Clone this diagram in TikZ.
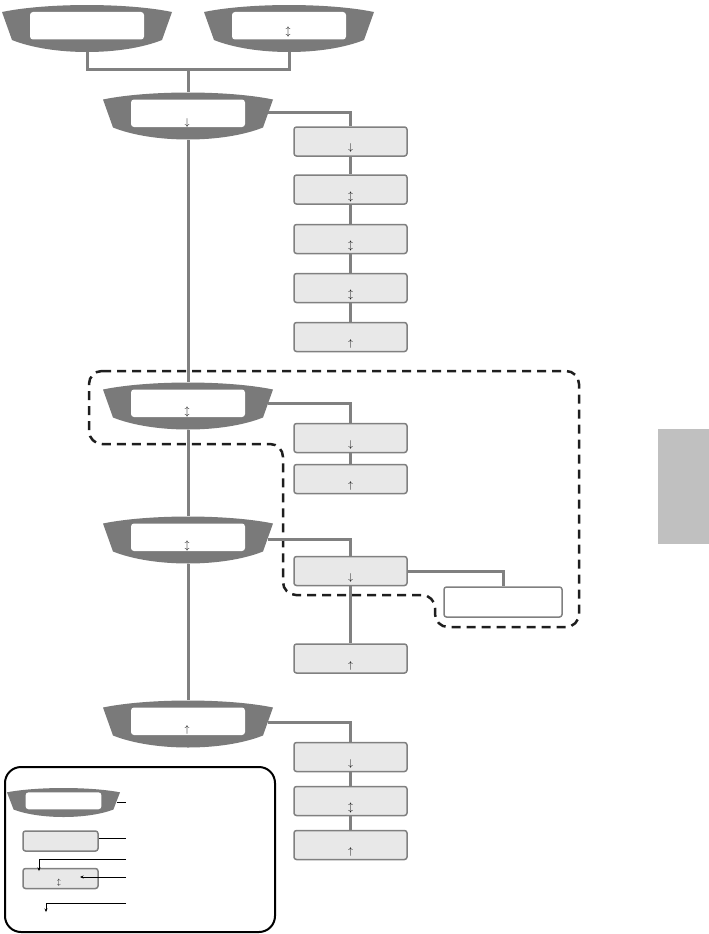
\documentclass[tikz,border=0pt]{standalone}
\usetikzlibrary{arrows.meta,calc}
\definecolor{lensgray}{RGB}{122,122,122}
\definecolor{linegray}{RGB}{128,128,128}
\definecolor{boxfill}{RGB}{232,232,232}
\definecolor{sidegray}{RGB}{192,192,192}
\definecolor{dashc}{RGB}{30,30,30}
% #1 = horizontal factor, #2 = vertical factor
\newcommand\mylensshape[2]{%
  \fill[lensgray] ({-85*#1},{-16.5*#2}) .. controls ({-40*#1},{-25.8*#2}) and ({40*#1},{-25.8*#2}) .. ({85*#1},{-16.5*#2})
     -- ({75*#1},{11.5*#2}) .. controls ({35*#1},{27.5*#2}) and ({-35*#1},{27.5*#2}) .. ({-75*#1},{11.5*#2}) -- cycle;
  \fill[white, rounded corners=3pt] ({-57*#1},{-16.5*#2}) rectangle ({57*#1},{11*#2});
}
\tikzset{
  lens/.style={minimum width=170pt, minimum height=47pt, inner sep=0pt,
    path picture={\begin{scope}[shift={(path picture bounding box.center)}]\mylensshape{1}{1}\end{scope}}},
  smalllens/.style={minimum width=113pt, minimum height=29pt, inner sep=0pt,
    path picture={\begin{scope}[shift={(path picture bounding box.center)}]\mylensshape{0.665}{0.617}\end{scope}}},
  gbox/.style={draw=linegray, line width=1.5pt, fill=boxfill, rounded corners=2.5pt,
    minimum width=113pt, minimum height=29pt, inner sep=0pt},
  wbox/.style={gbox, fill=white, minimum width=118pt, minimum height=30pt},
  sbox/.style={gbox, minimum width=75pt, minimum height=20pt},
  glyph/.style={inner sep=0pt, font=\normalsize},
  conn/.style={draw=linegray, line width=3pt},
  dashbox/.style={draw=dashc, line width=2.5pt, dash pattern=on 9pt off 6pt, rounded corners=13pt},
  legline/.style={draw=black, line width=0.9pt},
  legarrow/.style={legline, -{Stealth[length=3.5pt, width=3pt]}},
}
\begin{document}
\begin{tikzpicture}[x=1pt, y=-1pt]
\useasboundingbox (0,0) rectangle (709,934);

% side tab
\node[fill=sidegray, minimum width=51pt, minimum height=115pt, inner sep=0pt] (tab) at (683.5,486.5) {};

% dashed group outline
\draw[dashbox] (89,371) -- (579,371) -- (579,627) -- (435,627) -- (435,595)
   -- (283,595) -- (283,444) -- (89,444) -- cycle;

\coordinate (j1) at (188,70);

% lenses
\node[lens] (d1) at (87,28.5) {};
\node[lens] (d2) at (289,28.5) {};
\node[lens] (d3) at (188,116) {};
\node[lens] (d4) at (188,406) {};
\node[lens] (d5) at (188,540) {};
\node[lens] (d6) at (188,724) {};

% boxes
\node[gbox] (a1) at (350.5,141.5) {};
\node[gbox] (a2) at (350.5,189.5) {};
\node[gbox] (a3) at (350.5,239) {};
\node[gbox] (a4) at (350.5,288) {};
\node[gbox] (a5) at (350.5,337) {};
\node[gbox] (c1) at (350.5,438) {};
\node[gbox] (c2) at (350.5,479) {};
\node[gbox] (e1) at (350.5,571) {};
\node[gbox] (e2) at (350.5,658.5) {};
\node[wbox] (w1) at (503,602) {};
\node[gbox] (f1) at (350.5,757) {};
\node[gbox] (f2) at (350.5,801) {};
\node[gbox] (f3) at (350.5,845) {};

% connectors
\draw[conn] (d1.south) |- (j1) -| (d2.south);
\draw[conn] (j1) -- (d3.north);
\draw[conn] (d3.south) -- (d4.north);
\draw[conn] (d4.south) -- (d5.north);
\draw[conn] (d5.south) -- (d6.north);
\draw[conn] ([xshift=-5pt,yshift=4pt]d3.east) -| (a1.north);
\draw[conn] (a1.south) -- (a2.north);
\draw[conn] (a2.south) -- (a3.north);
\draw[conn] (a3.south) -- (a4.north);
\draw[conn] (a4.south) -- (a5.north);
\draw[conn] ([xshift=-5pt,yshift=3pt]d4.east) -| (c1.north);
\draw[conn] (c1.south) -- (c2.north);
\draw[conn] ([xshift=-5pt,yshift=1pt]d5.east) -| (e1.north);
\draw[conn] (e1.east) -| (w1.north);
\draw[conn] (e1.south) -- (e2.north);
\draw[conn] ([xshift=-5pt,yshift=2pt]d6.east) -| (f1.north);
\draw[conn] (f1.south) -- (f2.north);
\draw[conn] (f2.south) -- (f3.north);

% glyphs
\node[glyph] (d2t) at (288,32) {$\updownarrow$};
\node[glyph] (d3t) at (187,122.5) {$\downarrow$};
\node[glyph] (d4t) at (187,412) {$\updownarrow$};
\node[glyph] (d5t) at (187,546) {$\updownarrow$};
\node[glyph] (d6t) at (187,730) {$\uparrow$};
\node[glyph] (a1t) at (350.5,148) {$\downarrow$};
\node[glyph] (a2t) at (350.5,196.5) {$\updownarrow$};
\node[glyph] (a3t) at (350.5,246) {$\updownarrow$};
\node[glyph] (a4t) at (350.5,295) {$\updownarrow$};
\node[glyph] (a5t) at (350.5,344) {$\uparrow$};
\node[glyph] (c1t) at (350.5,445) {$\downarrow$};
\node[glyph] (c2t) at (350.5,486) {$\uparrow$};
\node[glyph] (e1t) at (350.5,578) {$\downarrow$};
\node[glyph] (e2t) at (350.5,665.5) {$\uparrow$};
\node[glyph] (f1t) at (350.5,764) {$\downarrow$};
\node[glyph] (f2t) at (350.5,808) {$\updownarrow$};
\node[glyph] (f3t) at (350.5,852) {$\uparrow$};

% legend
\draw[draw=black, line width=2pt, rounded corners=16pt] (5,767) rectangle (275,932);
\node[smalllens] (ll) at (63.5,802.5) {};
\node[sbox] (lb1) at (60.5,841) {};
\node[sbox] (lb2) at (60.5,878.5) {};
\node[inner sep=0pt, font=\scriptsize] (lb2t) at (59,883) {$\updownarrow$};
\coordinate (k1) at (126,802.5);
\coordinate (k2) at (126,838);
\coordinate (k3) at (126,859);
\coordinate (k4) at (126,877);
\coordinate (k5) at (126,903);
\coordinate (t3) at (39,871);
\coordinate (t4) at (80,877);
\coordinate (t5) at (46,912);
\draw[legline] ([xshift=-3pt]ll.east) -- (k1);
\draw[legline] (k2 -| lb1.east) -- (k2);
\draw[legarrow] (k3) -| (t3);
\draw[legarrow] (k4) -- (t4);
\draw[legarrow] (k5) -| (t5);
\end{tikzpicture}
\end{document}
